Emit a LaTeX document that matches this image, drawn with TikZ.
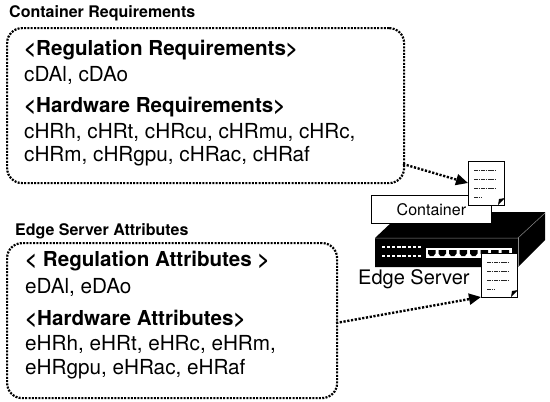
\documentclass[tikz,border=0pt]{standalone}
\usepackage{fontspec}
\setmainfont{TeX Gyre Heros}
\usetikzlibrary{arrows.meta}
\tikzset{
  x=1pt,y=-1pt,
  panel/.style={draw=black,line width=2.2pt,dash pattern=on 2pt off 1.3pt,rounded corners=15pt,fill=white,inner sep=0pt,anchor=north west},
  link/.style={draw=black,line width=2.4pt,dash pattern=on 2.2pt off 1.6pt,-{Triangle[length=12pt,width=11pt,sep=0pt]}},
  title/.style={anchor=west,font=\fontsize{16}{18}\selectfont\bfseries,inner sep=0pt},
  head/.style={anchor=west,font=\fontsize{20.6}{23}\selectfont\bfseries,inner sep=0pt},
  body/.style={anchor=west,font=\fontsize{20.7}{23}\selectfont,inner sep=0pt},
  sheet/.style={draw=black,line width=.8pt,fill=white,minimum width=36pt,minimum height=44pt,inner sep=0pt,anchor=north west},
  dashline/.style={draw=black!85,line width=1pt,dash pattern=on 1.7pt off .6pt},
}
\newcommand{\docmarks}[2]{%
  \draw[dashline] (#1+6,#2+9) -- ++(22,0);
  \draw[dashline] (#1+6,#2+18) -- ++(22,0);
  \draw[dashline] (#1+6,#2+27) -- ++(22,0);
  \draw[dashline] (#1+6,#2+36) -- ++(7,0);
  \fill[black] (#1+30,#2+44) -- (#1+37,#2+37) -- (#1+31,#2+38) -- cycle;
}
\begin{document}
\begin{tikzpicture}
\useasboundingbox (0,0) rectangle (550,402);
% panels
\node[panel,minimum width=397pt,minimum height=155pt] (box1) at (6,27) {};
\node[panel,minimum width=330pt,minimum height=155pt] (box2) at (6,242) {};
\node[title] (t1) at (9,13) {Container Requirements};
\node[title] (t2) at (15,231) {Edge Server Attributes};
\node[head] (h1) at (24,50) {<Regulation Requirements>};
\node[body] (b1) at (24,75) {cDAl, cDAo};
\node[head] (h2) at (24,107) {<Hardware Requirements>};
\node[body] (b2) at (24,132) {cHRh, cHRt, cHRcu, cHRmu, cHRc,};
\node[body] (b3) at (24,156) {cHRm, cHRgpu, cHRac, cHRaf};
\node[head] (h3) at (25,261) {< Regulation Attributes >};
\node[body] (b4) at (25,287) {eDAl, eDAo};
\node[head] (h4) at (25,319) {<Hardware Attributes>};
\node[body] (b5) at (25,344) {eHRh, eHRt, eHRc, eHRm,};
\node[body] (b6) at (25,369) {eHRgpu, eHRac, eHRaf};
% server
\fill[black] (375,238) -- (393,221) -- (491,212) -- (545,212) -- (545,240) -- (518,267) -- (375,267) -- cycle;
\draw[white!55!black,line width=.5pt] (375,238) -- (518,238) -- (545,213);
\draw[white!55!black,line width=.5pt] (518,238) -- (518,267);
\foreach \r in {247,256}{\foreach \c in {0,...,7}{\fill[white] (382+\c*5.1,\r-1) rectangle ++(3.2,2.2);}}
\fill[white] (426,248) rectangle (512,258);
\foreach \c in {0,...,7}{\fill[black] (428+\c*10.5,250) -- ++(7.5,0) -- ++(0,3.5) -- ++(-2,2.5) -- ++(-3.5,0) -- ++(-2,-2.5) -- cycle;}
% container
\node[draw=black,line width=.8pt,fill=white,minimum width=120pt,minimum height=28pt,inner sep=0pt,anchor=north west,font=\fontsize{16}{18}\selectfont] (cont) at (371,195) {Container};
% documents
\node[sheet] (doc1) at (468,161) {};
\docmarks{468}{161}
\node[sheet] (doc2) at (481,253) {};
\docmarks{481}{253}
\node[anchor=west,inner sep=0pt,font=\fontsize{20}{22}\selectfont] (srv) at (358,279) {Edge Server};
% connectors
\coordinate (s1) at (403,164);
\coordinate (s2) at (336,323);
\draw[link] (s1) -- (doc1.west |- 0,183);
\draw[link] (s2) -- (doc2.west |- 0,297);
\end{tikzpicture}
\end{document}
